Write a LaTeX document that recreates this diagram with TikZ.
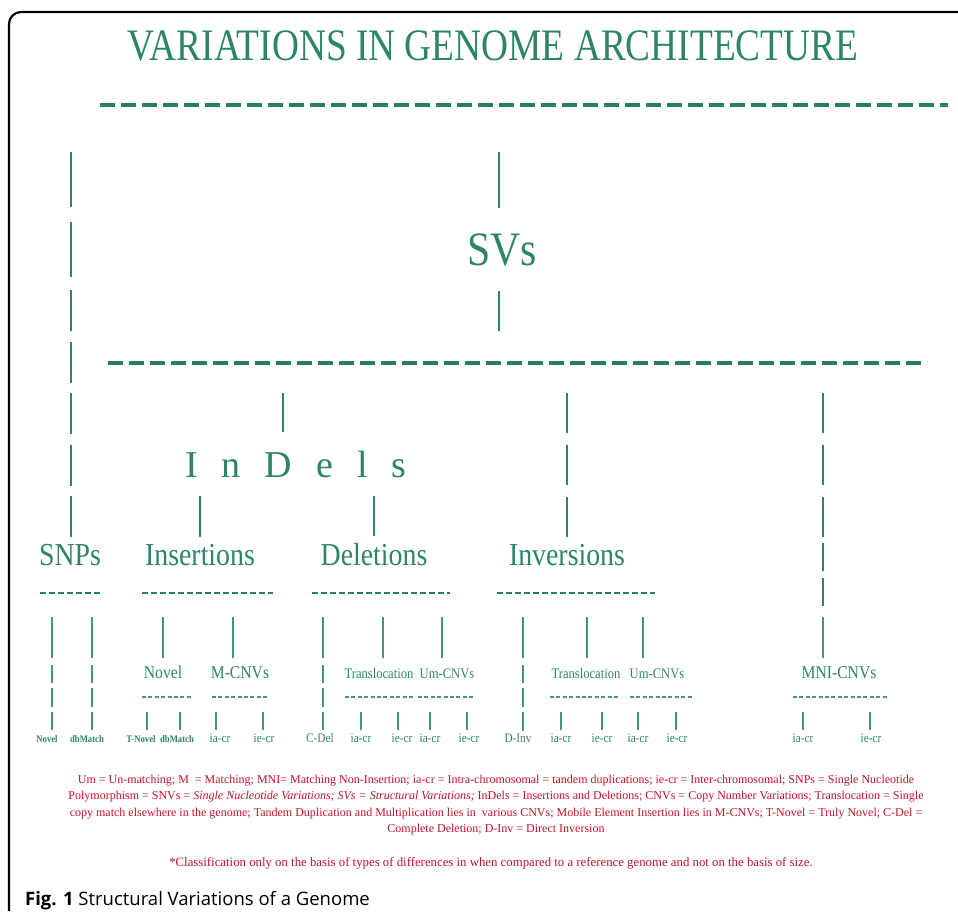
\documentclass[tikz,border=0pt]{standalone}
\usepackage{fontspec}
\setmainfont{Liberation Serif}
\newfontfamily\diagfont{Liberation Serif}[FakeStretch=0.87]
\newfontfamily\titlefont{Liberation Serif}[FakeStretch=0.83]
\newfontfamily\capfont{Open Sans}
\usetikzlibrary{positioning, calc}

\definecolor{archgreen}{RGB}{44,134,98}
\definecolor{bargreen}{RGB}{38,128,92}
\definecolor{linkgreen}{RGB}{72,150,122}
\definecolor{notered}{RGB}{196,18,40}

\begin{document}
\begin{tikzpicture}[x=1pt, y=-1pt]
    \tikzstyle{bigbar} = [bargreen, line width=4.8pt, dash pattern=on 15pt off 6pt];
    \tikzstyle{midbar} = [bargreen, line width=2.6pt, dash pattern=on 6pt off 3pt];
    \tikzstyle{smallbar} = [linkgreen, line width=1.2pt, dash pattern=on 4pt off 2.4pt];
    \tikzstyle{link} = [archgreen, line width=1.8pt];
    \tikzstyle{thinlink} = [linkgreen, line width=1.3pt];
    \tikzstyle{chain} = [thinlink, dash pattern=on 41pt off 7pt on 18pt off 5pt on 19pt off 5pt];
    \tikzstyle{lbl} = [text=archgreen, inner sep=0pt, anchor=base];
    \tikzstyle{family} = [lbl, font=\diagfont\fontsize{32}{34}\selectfont, outer sep=7pt];
    \tikzstyle{kind} = [lbl, font=\diagfont\fontsize{18}{20}\selectfont, outer sep=7.7pt];
    \tikzstyle{smallkind} = [lbl, font=\diagfont\fontsize{14.5}{16}\selectfont, outer sep=10pt];
    \tikzstyle{leaf} = [lbl, font=\diagfont\fontsize{13}{14}\selectfont, outer sep=3pt];
    \tikzstyle{boldleaf} = [lbl, font=\diagfont\bfseries\fontsize{10}{11}\selectfont, outer sep=5pt];

    \useasboundingbox (0,0) rectangle (958,911);

    % frame
    \draw[line width=2.2pt, rounded corners=12pt] (9,911) -- (9,12) -- (958,12);

    % title and top bar
    \node[lbl, font=\titlefont\fontsize{45}{48}\selectfont] (title) at (493,60) {VARIATIONS IN GENOME ARCHITECTURE};
    \draw[bigbar] (100,105) -- (948,105);

    % SVs
    \node[lbl, font=\diagfont\fontsize{48}{50}\selectfont, outer sep=25pt] (SVs) at (502,265) {SVs};
    \coordinate (svTop) at (499,152);
    \coordinate (svBot) at (499,331);
    \draw[link] (svTop) -- (svTop |- SVs.north);
    \draw[link] (SVs.south -| svBot) -- (svBot);
    \draw[bigbar] (108,363) -- (927,363);

    % SNPs
    \node[family] (SNPs) at (70,565) {SNPs};
    \coordinate (snpTop) at (71,152);
    \coordinate (snpKnee) at (71,278);
    \coordinate (snpMid) at (71,290);
    \draw[link, dash pattern=on 55pt off 15pt] (snpTop) -- (snpKnee);
    \draw[link, dash pattern=on 41pt off 10.5pt] (snpMid) -- (snpMid |- SNPs.north);

    % InDels
    \node[lbl, font=\fontsize{38}{40}\selectfont, outer sep=18.5pt] (InDels) at (296,477) {\spaceskip=24pt I n D e l s};
    \coordinate (indTop) at (283,393);
    \draw[link] (indTop) -- (indTop |- InDels.north);
    \node[family] (Ins) at (200,565) {Insertions};
    \node[family] (Del) at (374,565) {Deletions};
    \draw[link] (InDels.south -| Ins) -- (Ins.north);
    \draw[link] (InDels.south -| Del) -- (Del.north);

    % Inversions
    \node[family] (Inv) at (567,565) {Inversions};
    \coordinate (invTop) at (567,393);
    \draw[link, dash pattern=on 40pt off 12pt] (invTop) -- (Inv.north);

    % MNI-CNVs
    \node[kind] (MNI) at (839,678) {MNI-CNVs};
    \coordinate (mniTop) at (823,393);
    \coordinate (mniMid) at (823,543);
    \coordinate (mniLow) at (823,617);
    \draw[link, dash pattern=on 40pt off 12pt] (mniTop) -- (mniMid);
    \draw[link, dash pattern=on 28pt off 7pt on 28pt off 20pt] (mniMid) -- (mniLow);
    \draw[thinlink] (mniLow) -- (mniLow |- MNI.north);
    \draw[smallbar] (793,697) -- (887,697);

    % second level bars
    \draw[midbar] (40,593) -- (103,593);
    \draw[midbar] (142,593) -- (273,593);
    \draw[midbar] (312,593) -- (450,593);
    \draw[midbar] (497,593) -- (655,593);

    % SNPs leaves
    \node[boldleaf] (snpNovel) at (47,742) {Novel};
    \node[boldleaf] (snpMatch) at (87,742) {dbMatch};
    \coordinate (snpA) at (52,617);
    \coordinate (snpB) at (92,617);
    \draw[chain] (snpA) -- (snpA |- snpNovel.north);
    \draw[chain] (snpB) -- (snpB |- snpMatch.north);

    % Insertions children
    \node[kind] (insNovel) at (163,678) {Novel};
    \node[kind] (insMCNV) at (240,678) {M-CNVs};
    \coordinate (insA) at (163,617);
    \coordinate (insB) at (233,617);
    \draw[thinlink] (insA) -- (insA |- insNovel.north);
    \draw[thinlink] (insB) -- (insB |- insMCNV.north);
    \draw[smallbar] (142,697) -- (193,697);
    \draw[smallbar] (212,697) -- (268,697);

    % Deletions children
    \node[leaf] (cdel) at (320,742) {C-Del};
    \coordinate (cdelTop) at (323,617);
    \draw[chain] (cdelTop) -- (cdelTop |- cdel.north);
    \node[smallkind] (delTrans) at (379,678) {Translocation};
    \node[smallkind] (delUm) at (447,678) {Um-CNVs};
    \coordinate (delA) at (383,617);
    \coordinate (delB) at (442,617);
    \draw[thinlink] (delA) -- (delA |- delTrans.north);
    \draw[thinlink] (delB) -- (delB |- delUm.north);
    \draw[smallbar] (345,697) -- (413,697);
    \draw[smallbar] (418,697) -- (475,697);

    % Inversions children
    \node[leaf] (dinv) at (518,742) {D-Inv};
    \coordinate (dinvTop) at (523,617);
    \draw[chain] (dinvTop) -- (dinvTop |- dinv.north);
    \node[smallkind] (invTrans) at (586,678) {Translocation};
    \node[smallkind] (invUm) at (657,678) {Um-CNVs};
    \coordinate (invA) at (587,617);
    \coordinate (invB) at (643,617);
    \draw[thinlink] (invA) -- (invA |- invTrans.north);
    \draw[thinlink] (invB) -- (invB |- invUm.north);
    \draw[smallbar] (550,697) -- (620,697);
    \draw[smallbar] (630,697) -- (692,697);

    % leaves under the third level
    \foreach \st/\lx/\tx/\txt/\nm in {boldleaf/147/141/T-Novel/insT, boldleaf/180/177/dbMatch/insM,
        leaf/216/220/ia-cr/insIa, leaf/263/264/ie-cr/insIe,
        leaf/361/361/ia-cr/dtIa, leaf/398/402/ie-cr/dtIe, leaf/430/430/ia-cr/duIa, leaf/467/469/ie-cr/duIe,
        leaf/561/561/ia-cr/itIa, leaf/602/602/ie-cr/itIe, leaf/638/638/ia-cr/iuIa, leaf/676/677/ie-cr/iuIe,
        leaf/803/803/ia-cr/mnIa, leaf/870/871/ie-cr/mnIe}
    {
        \coordinate (\nm-top) at (\lx,712);
        \node[\st] (\nm) at (\tx,742) {\txt};
        \draw[thinlink] (\nm-top) -- (\nm-top |- \nm.north);
    }

    % notes
    \node[anchor=north, inner sep=0pt, align=center, text=notered, font=\fontsize{12}{16.3}\selectfont] (legend) at (496,775)
        {Um = Un-matching; M\ \ = Matching; MNI= Matching Non-Insertion; ia-cr = Intra-chromosomal = tandem duplications; ie-cr = Inter-chromosomal; SNPs = Single Nucleotide\\
        Polymorphism = SNVs = \textit{Single Nucleotide Variations; SVs = Structural Variations;} InDels = Insertions and Deletions; CNVs = Copy Number Variations; Translocation = Single\\
        copy match elsewhere in the genome; Tandem Duplication and Multiplication lies in\ \ various CNVs; Mobile Element Insertion lies in M-CNVs; T-Novel = Truly Novel; C-Del =\\
        Complete Deletion; D-Inv = Direct Inversion};
    \node[anchor=base, inner sep=0pt, text=notered, font=\fontsize{12.8}{14}\selectfont] (footnote) at (491,866)
        {*Classification only on the basis of types of differences in when compared to a reference genome and not on the basis of size.};

    % caption
    \node[anchor=base west, inner sep=0pt, font=\capfont\fontsize{18.5}{20}\selectfont] (caption) at (25,905)
        {\textbf{Fig. 1} Structural Variations of a Genome};
\end{tikzpicture}
\end{document}
